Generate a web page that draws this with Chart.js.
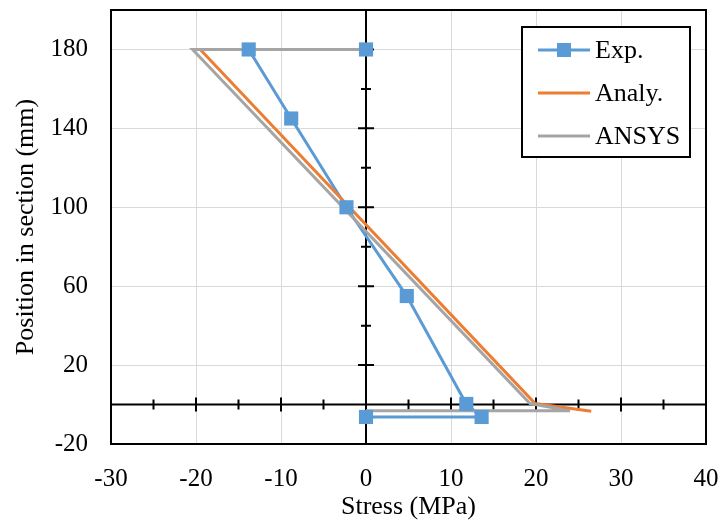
<!DOCTYPE html>
<html lang="en">
<head>
    <meta charset="UTF-8">
    <title>Stress distribution</title>
    <script src="https://cdn.jsdelivr.net/npm/chart.js"></script>
    <style>
        body {
            margin: 0;
            background-color: #ffffff;
        }
        .chart-container {
            width: 721px;
            height: 525px;
        }
    </style>
</head>
<body>

    <div class="chart-container">
        <canvas id="stressChart"></canvas>
    </div>

    <script>
        // series values (stress in MPa, position in mm)
        const expStress = [0, -13.8, -8.8, -2.3, 4.8, 11.8, 13.6, 0];
        const expPos = [180, 180, 145, 100, 55, 0.3, -6.3, -6.3];
        const analyStress = [-19.5, 19.9, 26.5];
        const analyPos = [180, 0.5, -3.4];
        const ansysStress = [0, -20.4, 19.3, 24, 0];
        const ansysPos = [180, 180, 0.5, -3.2, -3.2];

        const seriesNames = ['Exp.', 'Analy.', 'ANSYS'];
        const seriesColors = ['#5b9bd5', '#ed7d31', '#a5a5a5'];

        const xTicks = [-30, -20, -10, 0, 10, 20, 30, 40];
        const yTicks = [-20, 20, 60, 100, 140, 180];

        const serif = 'Liberation Serif, Times New Roman, serif';

        function toPoints(xs, ys) {
            return xs.map((x, i) => ({ x: x, y: ys[i] }));
        }

        // plot frame plus the black zero axes with their tick marks
        const axesPlugin = {
            id: 'zeroAxes',
            beforeDatasetsDraw(chart) {
                const { ctx, chartArea: a, scales: { x, y } } = chart;
                const x0 = x.getPixelForValue(0);
                const y0 = y.getPixelForValue(0);
                ctx.save();
                ctx.strokeStyle = '#000';
                ctx.lineWidth = 2;
                ctx.strokeRect(a.left, a.top, a.right - a.left, a.bottom - a.top);

                ctx.beginPath();
                ctx.moveTo(x0, a.top);
                ctx.lineTo(x0, a.bottom);
                ctx.moveTo(a.left, y0);
                ctx.lineTo(a.right, y0);
                for (let v = -25; v <= 35; v += 5) {
                    if (v === 0) continue;
                    const px = x.getPixelForValue(v);
                    const len = v % 10 === 0 ? 7 : 5;
                    ctx.moveTo(px, y0 - len);
                    ctx.lineTo(px, y0 + len);
                }
                for (let v = 20; v <= 180; v += 20) {
                    const py = y.getPixelForValue(v);
                    const len = (v - 20) % 40 === 0 ? 8 : 5;
                    ctx.moveTo(x0 - len, py);
                    ctx.lineTo(x0 + len, py);
                }
                ctx.stroke();
                ctx.restore();
            }
        };

        // boxed legend in the upper right, like the spreadsheet one
        const legendPlugin = {
            id: 'boxLegend',
            afterDraw(chart) {
                const ctx = chart.ctx;
                const bx = 522, by = 27, bw = 168, bh = 130;
                ctx.save();
                ctx.fillStyle = '#fff';
                ctx.fillRect(bx, by, bw, bh);
                ctx.strokeStyle = '#000';
                ctx.lineWidth = 2;
                ctx.strokeRect(bx, by, bw, bh);
                ctx.font = '26px ' + serif;
                ctx.textBaseline = 'middle';
                seriesNames.forEach((name, i) => {
                    const ry = 50 + i * 43;
                    ctx.strokeStyle = seriesColors[i];
                    ctx.lineWidth = 3;
                    ctx.beginPath();
                    ctx.moveTo(538, ry);
                    ctx.lineTo(590, ry);
                    ctx.stroke();
                    if (i === 0) {
                        ctx.fillStyle = seriesColors[0];
                        ctx.fillRect(564 - 7, ry - 7, 14, 14);
                    }
                    ctx.fillStyle = '#000';
                    ctx.fillText(name, 595, ry + 1);
                });
                ctx.restore();
            }
        };

        const lineBase = {
            showLine: true,
            tension: 0,
            borderWidth: 3,
            pointRadius: 0,
            pointHoverRadius: 0
        };

        const ctx = document.getElementById('stressChart').getContext('2d');
        new Chart(ctx, {
            type: 'scatter',
            data: {
                datasets: [
                    Object.assign({}, lineBase, {
                        label: seriesNames[0],
                        data: toPoints(expStress, expPos),
                        borderColor: seriesColors[0],
                        order: 3
                    }),
                    Object.assign({}, lineBase, {
                        label: seriesNames[1],
                        data: toPoints(analyStress, analyPos),
                        borderColor: seriesColors[1],
                        order: 2
                    }),
                    Object.assign({}, lineBase, {
                        label: seriesNames[2],
                        data: toPoints(ansysStress, ansysPos),
                        borderColor: seriesColors[2],
                        order: 1
                    }),
                    {
                        // Exp. markers sit above every line
                        label: 'Exp. markers',
                        data: toPoints(expStress, expPos),
                        showLine: false,
                        pointStyle: 'rect',
                        pointRadius: 10,
                        pointHoverRadius: 10,
                        backgroundColor: seriesColors[0],
                        borderColor: seriesColors[0],
                        borderWidth: 0,
                        order: 0
                    }
                ]
            },
            options: {
                responsive: true,
                maintainAspectRatio: false,
                animation: false,
                layout: {
                    padding: { top: 7, right: 15, left: 0, bottom: 0 }
                },
                plugins: {
                    legend: { display: false },
                    tooltip: { enabled: false }
                },
                scales: {
                    x: {
                        type: 'linear',
                        min: -30,
                        max: 40,
                        afterBuildTicks: s => { s.ticks = xTicks.map(v => ({ value: v })); },
                        afterFit: s => {
                            s.height = 81;
                            s.paddingLeft = 0;
                            s.paddingRight = 0;
                        },
                        grid: { color: '#d9d9d9', lineWidth: 1, drawTicks: false },
                        border: { display: false },
                        ticks: {
                            color: '#000',
                            padding: 20,
                            maxRotation: 0,
                            autoSkip: false,
                            font: { family: serif, size: 25 }
                        },
                        title: {
                            display: true,
                            text: 'Stress (MPa)',
                            color: '#000',
                            padding: { top: 0, bottom: 2 },
                            font: { family: serif, size: 26 }
                        }
                    },
                    y: {
                        type: 'linear',
                        min: -20,
                        max: 200,
                        afterBuildTicks: s => { s.ticks = yTicks.map(v => ({ value: v })); },
                        afterFit: s => {
                            s.width = 111;
                            s.paddingTop = 0;
                            s.paddingBottom = 0;
                        },
                        grid: { color: '#d9d9d9', lineWidth: 1, drawTicks: false },
                        border: { display: false },
                        ticks: {
                            color: '#000',
                            padding: 23,
                            autoSkip: false,
                            font: { family: serif, size: 25 }
                        },
                        title: {
                            display: true,
                            text: 'Position in section (mm)',
                            color: '#000',
                            padding: { top: 11, bottom: 0 },
                            font: { family: serif, size: 26 }
                        }
                    }
                }
            },
            plugins: [axesPlugin, legendPlugin]
        });
    </script>

</body>
</html>
